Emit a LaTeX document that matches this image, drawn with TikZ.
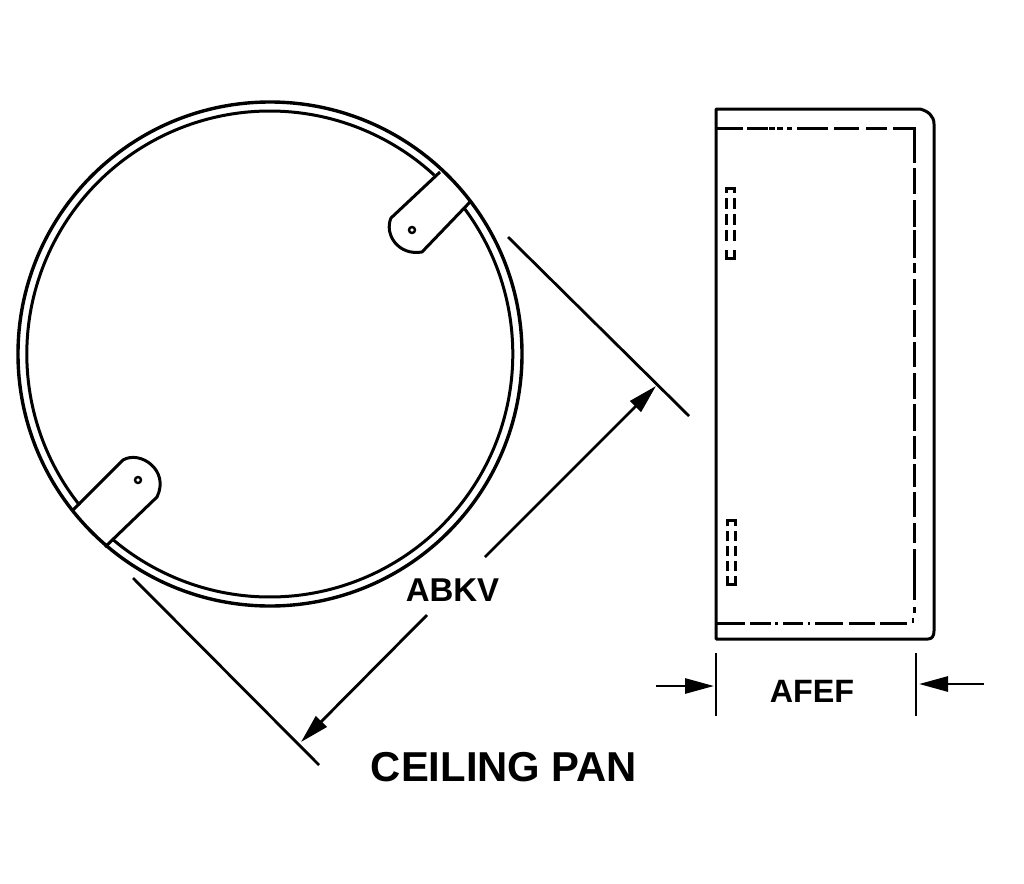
\documentclass[tikz,border=0pt]{standalone}
\usepackage{fontspec}
\setmainfont{Liberation Sans}
\usetikzlibrary{arrows.meta}
\tikzset{
  x=1pt,y=-1pt,
  outline/.style={line width=3pt,black,line cap=butt,line join=round},
  dimline/.style={line width=2.8pt,black},
  dimarrow/.style={line width=2.8pt,black,-{Triangle[length=29pt,width=15pt]},shorten >=0pt},
  hidden/.style={line width=3pt,black},
  dimtext/.style={font=\bfseries\fontsize{33}{33}\selectfont,anchor=base,inner sep=0pt},
  titletext/.style={font=\bfseries\fontsize{41.8}{42}\selectfont,anchor=base,inner sep=0pt},
}
\begin{document}
\begin{tikzpicture}
\useasboundingbox (0,0) rectangle (1024,883);
\fill[white] (0,0) rectangle (1024,883);

% --- circular pan (plan view)
\coordinate (ctr) at (270,354);
\draw[line width=3.4pt] (ctr) circle [radius=252];
\draw[outline] plot[domain=-218.5:-47.4,samples=160] ({269.8+243*cos(\x)},{354+243*sin(\x)});
\draw[outline] plot[domain=-36.9:130.2,samples=160] ({269.8+243*cos(\x)},{354+243*sin(\x)});

% tabs
\draw[outline] (440,172) -- (391,218) .. controls (384,234) and (398,256) .. (422,252) -- (470,202);
\draw[outline] (73,510) -- (123,460) .. controls (140,450) and (170,470) .. (157,497) -- (105,547);
\draw[line width=2.4pt] (412,230) circle [radius=3];
\draw[line width=2.4pt] (138,480) circle [radius=3];

% --- side view
\draw[outline] (716,109) -- (920,109) .. controls (928,111) and (934,116) .. (934,124)
  -- (934,631) .. controls (934,636) and (932,639) .. (928,639) -- (716,639) -- cycle;

% hidden lines, top
\foreach \a/\b in {716/743,747/768,769/775,777/783,787/792,797/828,834/859,866/887,893/915}
  \draw[hidden] (\a,128) -- (\b,128);
% hidden lines, bottom
\foreach \a/\b in {716/745,750/771,775/778,783/803,808/810,815/843,849/875,880/907}
  \draw[hidden] (\a,623) -- (\b,623);
% hidden line, right
\foreach \a/\b in {127/163,168/194,200/227,230/258,263/273,279/305,310/337,342/367,373/399,404/431,436/459,464/487,492/517,523/543,549/600,607/613}
  \draw[hidden] (914,\a) -- (914,\b);
\draw[line width=1.5pt] (913,618) -- (913,623);

% slots
\draw[hidden] (734,193) -- (734,188) -- (726,188) -- (726,193);
\draw[hidden] (726,250) -- (726,258) -- (734,258) -- (734,250);
\foreach \a/\b in {198/209,214/225,230/241}{
  \draw[hidden] (726,\a) -- (726,\b);
  \draw[hidden] (734,\a) -- (734,\b);
}
\draw[hidden] (735,526) -- (735,520.5) -- (727,520.5) -- (727,526);
\draw[hidden] (727,576) -- (727,584) -- (735,584) -- (735,576);
\foreach \a/\b in {531/541,546/556,561/571}{
  \draw[hidden] (727,\a) -- (727,\b);
  \draw[hidden] (735,\a) -- (735,\b);
}

% --- dimension ABKV
\coordinate (extAa) at (508,237);
\coordinate (extAb) at (689,416);
\coordinate (extBa) at (133,578);
\coordinate (extBb) at (319,765);
\coordinate (tipA) at (656,386);
\coordinate (tailA) at (485,557);
\coordinate (tipB) at (301,742);
\coordinate (tailB) at (427,615);
\draw[dimline] (extAa) -- (extAb);
\draw[dimline] (extBa) -- (extBb);
\draw[dimarrow] (tailA) -- (tipA);
\draw[dimarrow] (tailB) -- (tipB);
\node[dimtext] (abkv) at (452.5,601) {ABKV};

% --- dimension AFEF
\coordinate (tickLa) at (716,653);
\coordinate (tickLb) at (716,716);
\coordinate (tickRa) at (916,653);
\coordinate (tickRb) at (916,716);
\coordinate (arrLtail) at (656,686);
\coordinate (arrLtip) at (714,686);
\coordinate (arrRtail) at (984,684);
\coordinate (arrRtip) at (919,684);
\draw[dimline] (tickLa) -- (tickLb);
\draw[dimline] (tickRa) -- (tickRb);
\draw[dimarrow] (arrLtail) -- (arrLtip);
\draw[dimarrow] (arrRtail) -- (arrRtip);
\node[dimtext,font=\bfseries\fontsize{32.3}{33}\selectfont] (afef) at (812,702) {AFEF};

% --- title
\node[titletext] (title) at (504,781) {CEILING PAN};
\end{tikzpicture}
\end{document}
